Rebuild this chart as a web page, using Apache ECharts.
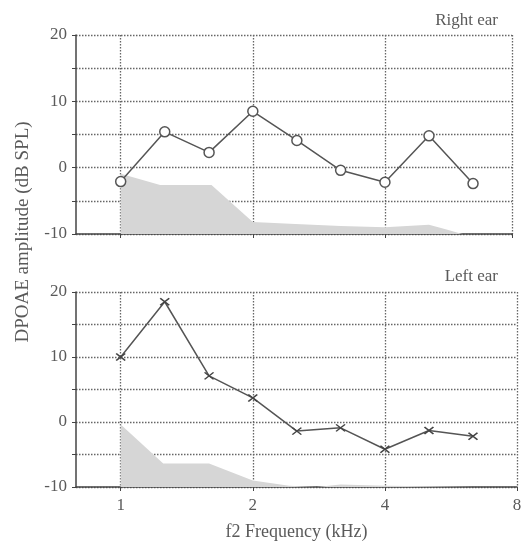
<!DOCTYPE html>
<html>
<head>
<meta charset="utf-8">
<script src="https://cdn.jsdelivr.net/npm/echarts@6/dist/echarts.min.js"></script>
<style>html,body{margin:0;padding:0;background:#fff;}#c{width:525px;height:542px;}</style>
</head>
<body>
<div id="c"></div>
<script>
// f2 frequencies (kHz)
const freqs = [1, 1.26, 1.59, 2, 2.52, 3.17, 4, 5.04, 6.35];
// DPOAE amplitudes (dB SPL)
const rightEar = [-2.1, 5.4, 2.3, 8.5, 4.1, -0.4, -2.2, 4.8, -2.4];
const leftEar = [10.0, 18.5, 7.1, 3.7, -1.4, -0.9, -4.2, -1.3, -2.2];
// noise floor
const rightNoiseFreq = [1, 1.23, 1.61, 2, 2.5, 3.17, 4, 5.04, 5.5, 6.0];
const rightNoise = [-0.9, -2.6, -2.6, -8.2, -8.5, -8.8, -9.0, -8.6, -9.3, -10];
const leftNoiseFreq = [1, 1.25, 1.59, 2, 2.42, 2.8, 3.17, 4, 5, 6.35];
const leftNoise = [-0.4, -6.4, -6.4, -9.0, -9.8, -10, -9.6, -9.8, -9.9, -10];
// axis ticks
const xTickLabels = [1, 2, 4, 8];
const yTickLabels = [-10, 0, 10, 20];

const FONT = 'Liberation Serif';
const TXT = '#5a5a5a';
const AX = '#444';
const GRIDC = '#666';

const zip = (xs, ys) => xs.map((x, i) => [x, ys[i]]);

function xAxisDef(gi, max, ticks, showLabels) {
  return {
    type: 'log', logBase: 2, gridIndex: gi, min: 0.791, max: max,
    axisLine: {show: true, onZero: false, lineStyle: {color: AX, width: 1.5}},
    axisTick: {show: true, length: 4, customValues: ticks, lineStyle: {color: AX}},
    axisLabel: {show: showLabels, customValues: xTickLabels, color: TXT,
      fontFamily: FONT, fontSize: 17, margin: 10},
    splitLine: {show: true, lineStyle: {color: GRIDC, type: [1.5, 1.5], width: 1.3}},
    name: showLabels ? 'f2 Frequency (kHz)' : '',
    nameLocation: 'middle', nameGap: 36,
    nameTextStyle: {color: TXT, fontFamily: FONT, fontSize: 18}
  };
}
function yAxisDef(gi) {
  return {
    type: 'value', gridIndex: gi, min: -10, max: 20, interval: 5,
    axisLine: {show: true, onZero: false, lineStyle: {color: AX, width: 1.5}},
    axisTick: {show: true, length: 4, inside: false, lineStyle: {color: AX}},
    axisLabel: {color: TXT, fontFamily: FONT, fontSize: 17, margin: 9,
      formatter: v => (yTickLabels.indexOf(v) >= 0 ? String(v) : '')},
    splitLine: {show: true, lineStyle: {color: GRIDC, type: [1.5, 1.5], width: 1.3}}
  };
}

const xMark = 'path://M0,0L10,10M10,0L0,10';

const option = {
  animation: false,
  backgroundColor: '#fff',
  grid: [
    {left: 76, right: 13, top: 35, height: 199},
    {left: 76, right: 8, top: 292, height: 197.5}
  ],
  xAxis: [xAxisDef(0, 7.79, [1, 2, 4, 7.79], false), xAxisDef(1, 8, [1, 2, 4, 8], true)],
  yAxis: [yAxisDef(0), yAxisDef(1)],
  series: [
    {type: 'line', xAxisIndex: 0, yAxisIndex: 0, data: zip(rightNoiseFreq, rightNoise),
      symbol: 'none', lineStyle: {width: 0}, areaStyle: {color: '#d6d6d6', origin: 'start', opacity: 1}, z: 1},
    {type: 'line', xAxisIndex: 1, yAxisIndex: 1, data: zip(leftNoiseFreq, leftNoise),
      symbol: 'none', lineStyle: {width: 0}, areaStyle: {color: '#d6d6d6', origin: 'start', opacity: 1}, z: 1},
    {type: 'line', xAxisIndex: 0, yAxisIndex: 0, data: zip(freqs, rightEar),
      symbol: 'circle', symbolSize: 10,
      lineStyle: {color: '#555', width: 1.5},
      itemStyle: {color: '#fff', borderColor: '#555', borderWidth: 1.5}, z: 3},
    {type: 'line', xAxisIndex: 1, yAxisIndex: 1, data: zip(freqs, leftEar),
      symbol: xMark, symbolSize: [9, 7],
      lineStyle: {color: '#555', width: 1.5},
      itemStyle: {color: 'none', borderColor: '#444', borderWidth: 1.5}, z: 3}
  ],
  graphic: [
    {type: 'text', x: 23, y: 232, rotation: Math.PI / 2,
      style: {text: 'DPOAE amplitude (dB SPL)', fill: TXT, font: '19px "Liberation Serif"',
        align: 'center', verticalAlign: 'middle'}},
    {type: 'text', x: 498, y: 21,
      style: {text: 'Right ear', fill: TXT, font: '17px "Liberation Serif"',
        align: 'right', verticalAlign: 'middle'}},
    {type: 'text', x: 498, y: 277,
      style: {text: 'Left ear', fill: TXT, font: '17px "Liberation Serif"',
        align: 'right', verticalAlign: 'middle'}}
  ]
};

const chart = echarts.init(document.getElementById('c'), null, {renderer: 'canvas'});
chart.setOption(option);
</script>
</body>
</html>
